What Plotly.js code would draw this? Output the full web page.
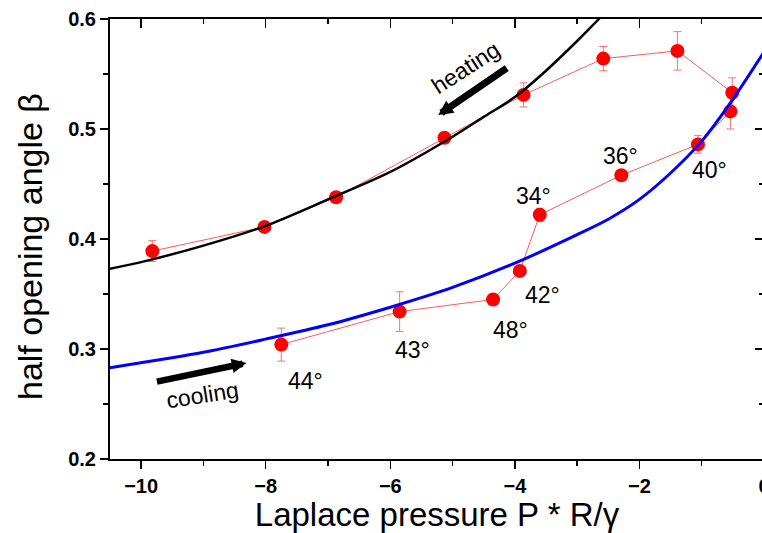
<!DOCTYPE html>
<html>
<head>
<meta charset="utf-8">
<script src="https://cdn.plot.ly/plotly-3.0.1.min.js"></script>
<style>
  html, body { margin: 0; padding: 0; background: #fff; overflow: hidden; }
  #chart { width: 764px; height: 533px; }
</style>
</head>
<body>
<div id="chart"></div>
<script>
// Measured half opening angle vs. reduced Laplace pressure (heating then cooling)
const pressure = [-9.82, -8.02, -6.87, -5.13, -3.86, -2.58, -1.39, -0.51,
                  -0.54, -1.06, -2.29, -3.60, -3.92, -4.35, -5.85, -7.75];
const beta = [0.389, 0.411, 0.438, 0.492, 0.531, 0.564, 0.571, 0.533,
              0.516, 0.486, 0.458, 0.422, 0.371, 0.345, 0.334, 0.304];
const betaErr = [0.0095, 0.004, 0.003, 0.003, 0.011, 0.011, 0.0175, 0.0135,
                 0.016, 0.008, 0.0, 0.006, 0.003, 0.003, 0.018, 0.015];

// Contact angles written next to the cooling points (index into the arrays above)
const angleIndex = [9, 10, 11, 12, 13, 14, 15];
const angleText = ['40°', '36°', '34°', '42°', '48°', '43°', '44°'];

// Model curves for the heating (black) and cooling (blue) branches
const heatX = [-10.5, -10, -9, -8, -7, -6, -5, -4.5, -4, -3.5, -3, -2.6];
const heatY = [0.373, 0.379, 0.394, 0.412, 0.436, 0.461, 0.493, 0.511, 0.529, 0.553, 0.580, 0.603];
const coolX = [-10.5, -9, -8, -7, -6, -5, -4, -3, -2.5, -2, -1.5, -1, -0.5, 0];
const coolY = [0.283, 0.297, 0.309, 0.322, 0.338, 0.356, 0.378, 0.404, 0.418, 0.436, 0.460, 0.489, 0.527, 0.570];

const xTitle = 'Laplace pressure P * R/γ';
const yTitle = 'half opening angle β';

const xRange = [-10.5, 0];
const yRange = [0.2, 0.6];
const FONT = 'Liberation Sans, Arial, Helvetica, sans-serif';

const traces = [
  {
    x: pressure, y: beta, type: 'scatter', mode: 'lines+markers',
    line: { color: '#ff5a5a', width: 1 },
    marker: { color: '#ff0000', size: 14 },
    error_y: { type: 'data', array: betaErr, visible: true,
               color: '#ff6f6f', thickness: 1, width: 4 },
    hoverinfo: 'skip', showlegend: false
  },
  {
    x: heatX, y: heatY, type: 'scatter', mode: 'lines',
    line: { color: '#000000', width: 2.5, shape: 'spline', smoothing: 0.8 },
    hoverinfo: 'skip', showlegend: false
  },
  {
    x: coolX, y: coolY, type: 'scatter', mode: 'lines',
    line: { color: '#0000ff', width: 3, shape: 'spline', smoothing: 0.8 },
    hoverinfo: 'skip', showlegend: false
  },
  // carrier for the mirrored top / right axes
  { x: [], y: [], xaxis: 'x2', yaxis: 'y2', type: 'scatter', showlegend: false }
];

// offsets (px) of each angle label from its marker
const labelShift = {
  '40°': [12, -26], '36°': [-1, 19], '34°': [-6, 19], '42°': [23, -24],
  '48°': [17, -30], '43°': [13, -38], '44°': [24, -36]
};

const annotations = angleIndex.map((idx, i) => ({
  x: pressure[idx], y: beta[idx], xref: 'x', yref: 'y',
  text: angleText[i], showarrow: false,
  xanchor: 'center', yanchor: 'middle',
  xshift: labelShift[angleText[i]][0], yshift: labelShift[angleText[i]][1],
  font: { family: FONT, size: 23, color: '#000' }
}));

annotations.push(
  { x: -4.80, y: 0.5555, xref: 'x', yref: 'y', text: 'heating', showarrow: false,
    textangle: -33, font: { family: FONT, size: 23, color: '#000' } },
  { x: -5.23, y: 0.5127, xref: 'x', yref: 'y', text: '', showarrow: true,
    ax: 70, ay: -48, axref: 'pixel', ayref: 'pixel',
    arrowhead: 2, arrowsize: 0.42, arrowwidth: 7, arrowcolor: '#000', standoff: 0, startstandoff: 0 },
  { x: -9.02, y: 0.258, xref: 'x', yref: 'y', text: 'cooling', showarrow: false,
    textangle: -9, font: { family: FONT, size: 23, color: '#000' } },
  { x: -8.31, y: 0.2873, xref: 'x', yref: 'y', text: '', showarrow: true,
    ax: -91, ay: 19, axref: 'pixel', ayref: 'pixel',
    arrowhead: 2, arrowsize: 0.45, arrowwidth: 6.5, arrowcolor: '#000', standoff: 0, startstandoff: 0 },
  // vertical axis title
  { x: 0, y: 0.5, xref: 'paper', yref: 'paper', xshift: -80, yshift: -8,
    text: yTitle, textangle: -90, showarrow: false,
    xanchor: 'center', yanchor: 'middle',
    font: { family: FONT, size: 34, color: '#000' } }
);

const tickFont = { family: FONT, size: 20, color: '#000', weight: 'bold' };

const layout = {
  width: 764, height: 533,
  margin: { l: 110, r: 0, t: 19, b: 74 },
  paper_bgcolor: '#fff', plot_bgcolor: '#fff',
  showlegend: false,
  xaxis: {
    range: xRange, dtick: 2, tick0: 0,
    showgrid: false, zeroline: false,
    showline: true, linecolor: '#000', linewidth: 2,
    ticks: 'outside', ticklen: 8, tickwidth: 1.5, tickcolor: '#000',
    minor: { dtick: 1, ticks: 'outside', ticklen: 5, tickwidth: 1.5, tickcolor: '#000', showgrid: false },
    tickfont: tickFont, ticklabeloverflow: 'allow',
    title: { text: xTitle, font: { family: FONT, size: 33, color: '#000' }, standoff: 5 }
  },
  yaxis: {
    range: yRange, dtick: 0.1, tick0: 0, tickformat: '.1f',
    showgrid: false, zeroline: false,
    showline: true, linecolor: '#000', linewidth: 2,
    ticks: 'outside', ticklen: 8, tickwidth: 1.5, tickcolor: '#000',
    minor: { dtick: 0.05, ticks: 'outside', ticklen: 5, tickwidth: 1.5, tickcolor: '#000', showgrid: false },
    tickfont: tickFont, ticklabeloverflow: 'allow'
  },
  xaxis2: {
    overlaying: 'x', side: 'top', anchor: 'y2', range: xRange, dtick: 2, tick0: 0,
    showgrid: false, zeroline: false, showticklabels: false,
    showline: true, linecolor: '#000', linewidth: 2,
    ticks: 'inside', ticklen: 9, tickwidth: 1.5, tickcolor: '#000',
    minor: { dtick: 1, ticks: 'inside', ticklen: 5, tickwidth: 1.5, tickcolor: '#000', showgrid: false }
  },
  yaxis2: {
    overlaying: 'y', side: 'right', anchor: 'x2', range: yRange, dtick: 0.1, tick0: 0,
    showgrid: false, zeroline: false, showticklabels: false,
    showline: true, linecolor: '#000', linewidth: 2,
    ticks: 'inside', ticklen: 9, tickwidth: 1.5, tickcolor: '#000',
    minor: { dtick: 0.05, ticks: 'inside', ticklen: 5, tickwidth: 1.5, tickcolor: '#000', showgrid: false }
  },
  annotations: annotations
};

Plotly.newPlot('chart', traces, layout, { staticPlot: true, displayModeBar: false });
</script>
</body>
</html>
